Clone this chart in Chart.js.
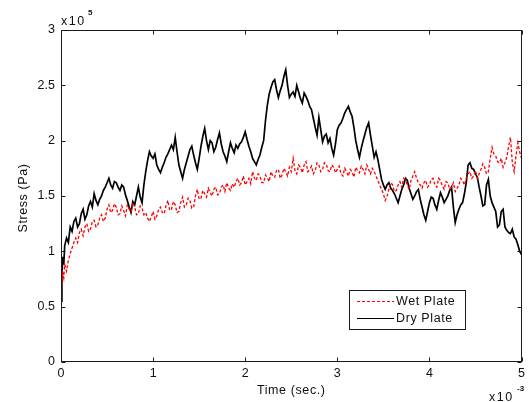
<!DOCTYPE html>
<html>
<head>
<meta charset="utf-8">
<script src="https://cdn.jsdelivr.net/npm/chart.js@4/dist/chart.umd.min.js"></script>
<style>
html,body{margin:0;padding:0;background:#fff;}
#wrap{width:529px;height:402px;position:relative;}
</style>
</head>
<body>
<div id="wrap"><canvas id="c" width="529" height="402"></canvas></div>
<script>
// Time in units of 1e-3 s, stress in units of 1e5 Pa
const timeMs = [0,0.01,0.02,0.03,0.04,0.06,0.08,0.10,
0.12,0.14,0.16,0.18,0.20,0.22,0.24,0.26,0.28,0.30,
0.32,0.34,0.36,0.38,0.40,0.42,0.44,0.46,0.48,0.50,
0.52,0.54,0.56,0.58,0.60,0.62,0.64,0.66,0.68,0.70,
0.72,0.74,0.76,0.78,0.80,0.82,0.84,0.86,0.88,0.90,
0.92,0.94,0.96,0.98,1.00,1.02,1.04,1.06,1.08,1.10,
1.12,1.14,1.16,1.18,1.20,1.22,1.24,1.26,1.28,1.30,
1.32,1.34,1.36,1.38,1.40,1.42,1.44,1.46,1.48,1.50,
1.52,1.54,1.56,1.58,1.60,1.62,1.64,1.66,1.68,1.70,
1.72,1.74,1.76,1.78,1.80,1.82,1.84,1.86,1.88,1.90,
1.92,1.94,1.96,1.98,2.00,2.02,2.04,2.06,2.08,2.10,
2.12,2.14,2.16,2.18,2.20,2.22,2.24,2.26,2.28,2.30,
2.32,2.34,2.36,2.38,2.40,2.42,2.44,2.46,2.48,2.50,
2.52,2.54,2.56,2.58,2.60,2.62,2.64,2.66,2.68,2.70,
2.72,2.74,2.76,2.78,2.80,2.82,2.84,2.86,2.88,2.90,
2.92,2.94,2.96,2.98,3.00,3.02,3.04,3.06,3.08,3.10,
3.12,3.14,3.16,3.18,3.20,3.22,3.24,3.26,3.28,3.30,
3.32,3.34,3.36,3.38,3.40,3.42,3.44,3.46,3.48,3.50,
3.52,3.54,3.56,3.58,3.60,3.62,3.64,3.66,3.68,3.70,
3.72,3.74,3.76,3.78,3.80,3.82,3.84,3.86,3.88,3.90,
3.92,3.94,3.96,3.98,4.00,4.02,4.04,4.06,4.08,4.10,
4.12,4.14,4.16,4.18,4.20,4.22,4.24,4.26,4.28,4.30,
4.32,4.34,4.36,4.38,4.40,4.42,4.44,4.46,4.48,4.50,
4.52,4.54,4.56,4.58,4.60,4.62,4.64,4.66,4.68,4.70,
4.72,4.74,4.76,4.78,4.80,4.82,4.84,4.86,4.88,4.90,
4.92,4.94,4.96,4.98,5.00];

const wetPlate = [0.60,0.72,0.80,0.76,0.88,0.82,0.92,0.98,
1.03,1.08,1.12,1.08,1.17,1.20,1.14,1.22,1.25,1.18,
1.20,1.27,1.28,1.22,1.24,1.30,1.33,1.27,1.30,1.38,
1.42,1.35,1.37,1.43,1.40,1.33,1.34,1.41,1.37,1.32,
1.42,1.38,1.36,1.44,1.40,1.33,1.34,1.41,1.39,1.33,
1.35,1.30,1.27,1.31,1.36,1.29,1.32,1.38,1.40,1.35,
1.34,1.41,1.46,1.37,1.38,1.45,1.42,1.35,1.36,1.44,
1.49,1.40,1.42,1.48,1.46,1.39,1.40,1.50,1.56,1.47,
1.48,1.55,1.52,1.49,1.57,1.53,1.50,1.56,1.58,1.51,
1.52,1.58,1.60,1.54,1.62,1.57,1.55,1.61,1.58,1.63,
1.66,1.60,1.62,1.68,1.60,1.63,1.66,1.61,1.72,1.66,
1.64,1.70,1.68,1.62,1.62,1.69,1.66,1.63,1.72,1.68,
1.67,1.73,1.74,1.66,1.69,1.75,1.72,1.68,1.76,1.72,
1.84,1.73,1.70,1.78,1.76,1.71,1.78,1.81,1.72,1.74,
1.77,1.70,1.73,1.80,1.78,1.72,1.74,1.80,1.79,1.73,
1.72,1.78,1.76,1.71,1.74,1.77,1.70,1.68,1.75,1.72,
1.68,1.74,1.72,1.67,1.76,1.73,1.71,1.77,1.74,1.70,
1.78,1.74,1.70,1.75,1.72,1.68,1.64,1.60,1.56,1.52,
1.46,1.50,1.56,1.62,1.60,1.54,1.55,1.60,1.63,1.58,
1.66,1.64,1.60,1.56,1.64,1.68,1.72,1.66,1.62,1.60,
1.57,1.62,1.64,1.58,1.60,1.65,1.66,1.60,1.58,1.66,
1.64,1.59,1.56,1.63,1.62,1.56,1.58,1.62,1.54,1.57,
1.60,1.66,1.64,1.60,1.66,1.70,1.72,1.66,1.68,1.73,
1.66,1.70,1.74,1.79,1.76,1.70,1.72,1.84,1.94,1.88,
1.86,1.81,1.80,1.84,1.76,1.80,1.85,1.95,2.03,1.80,
1.72,1.86,1.98,1.90,1.84];

const dryPlate = [0.55,0.80,0.95,0.88,1.05,1.12,1.08,1.22,
1.18,1.27,1.30,1.22,1.25,1.34,1.38,1.29,1.33,1.41,
1.45,1.40,1.52,1.46,1.42,1.47,1.50,1.55,1.58,1.62,
1.66,1.60,1.57,1.63,1.62,1.58,1.55,1.60,1.58,1.51,
1.46,1.40,1.35,1.45,1.42,1.50,1.58,1.49,1.44,1.60,
1.72,1.82,1.90,1.86,1.84,1.88,1.78,1.74,1.71,1.76,
1.80,1.85,1.88,1.92,1.96,1.92,2.03,1.90,1.78,1.72,
1.66,1.74,1.80,1.86,1.92,1.95,1.87,1.80,1.74,1.84,
1.95,2.04,2.11,2.00,1.92,2.00,1.98,1.90,1.94,2.01,
2.07,1.97,1.90,1.86,1.81,1.90,1.98,1.93,1.89,1.96,
1.93,1.97,1.99,2.03,2.08,2.01,1.95,1.90,1.84,1.81,
1.78,1.83,1.87,1.94,2.00,2.18,2.32,2.42,2.48,2.53,
2.55,2.46,2.39,2.45,2.50,2.58,2.64,2.50,2.39,2.42,
2.44,2.40,2.50,2.44,2.38,2.34,2.43,2.40,2.36,2.31,
2.28,2.20,2.12,2.05,2.21,2.10,1.99,2.04,2.06,1.98,
2.02,1.93,1.87,1.97,2.10,2.14,2.16,2.20,2.25,2.28,
2.31,2.26,2.22,2.12,2.00,1.92,1.85,1.93,2.00,2.06,
2.12,2.16,2.05,1.95,1.85,1.90,1.83,1.74,1.65,1.60,
1.56,1.60,1.62,1.57,1.55,1.52,1.48,1.44,1.50,1.56,
1.60,1.66,1.64,1.57,1.52,1.47,1.50,1.54,1.56,1.47,
1.40,1.33,1.28,1.36,1.44,1.49,1.48,1.42,1.38,1.46,
1.53,1.49,1.44,1.47,1.50,1.55,1.58,1.40,1.26,1.33,
1.38,1.42,1.44,1.52,1.62,1.78,1.80,1.75,1.74,1.70,
1.67,1.58,1.50,1.41,1.42,1.60,1.65,1.50,1.44,1.40,
1.36,1.22,1.24,1.36,1.38,1.22,1.19,1.17,1.16,1.20,
1.13,1.11,1.06,1.00,0.97];

const xTicks = [0,1,2,3,4,5];
const yTicks = [0,0.5,1,1.5,2,2.5,3];
const seriesNames = ['Wet Plate','Dry Plate'];

const FONT = '"Liberation Sans", Arial, sans-serif';

const frame = {
  id: 'matlabFrame',
  afterDraw(chart) {
    const {ctx, chartArea: a, scales: {x, y}} = chart;
    ctx.save();
    ctx.strokeStyle = '#1a1a1a';
    ctx.lineWidth = 1;
    const L = Math.round(a.left) + 0.5, R = Math.round(a.right) - 0.5;
    const T = Math.round(a.top) + 0.5, B = Math.round(a.bottom) - 0.5;
    ctx.strokeRect(L, T, R - L, B - T);
    ctx.beginPath();
    xTicks.forEach(v => {
      const px = Math.round(x.getPixelForValue(v)) + 0.5;
      ctx.moveTo(px, B); ctx.lineTo(px, B - 4);
      ctx.moveTo(px, T); ctx.lineTo(px, T + 4);
    });
    yTicks.forEach(v => {
      const py = Math.round(y.getPixelForValue(v)) + 0.5;
      ctx.moveTo(L, py); ctx.lineTo(L + 4, py);
      ctx.moveTo(R, py); ctx.lineTo(R - 4, py);
    });
    ctx.stroke();

    // multipliers and axis titles
    const hasLS = 'letterSpacing' in ctx;
    ctx.fillStyle = '#111';
    ctx.textBaseline = 'alphabetic';
    ctx.textAlign = 'left';
    if (hasLS) ctx.letterSpacing = '1.5px';
    ctx.font = '12.5px ' + FONT;
    ctx.fillText('x10', 61, 25);
    ctx.fillText('x10', 489, 401);
    if (hasLS) ctx.letterSpacing = '0px';
    ctx.font = 'bold 8px ' + FONT;
    ctx.fillText('5', 88, 15);
    ctx.fillText('-3', 517, 391);

    ctx.font = '12.5px ' + FONT;
    ctx.textAlign = 'center';
    if (hasLS) ctx.letterSpacing = '0.6px';
    ctx.fillText('Time (sec.)', (a.left + a.right) / 2, 394);
    ctx.save();
    ctx.translate(27, (a.top + a.bottom) / 2 + 2);
    ctx.rotate(-Math.PI / 2);
    ctx.fillText('Stress (Pa)', 0, 0);
    ctx.restore();

    // legend box
    const lx = 349.5, ly = 290.5, lw = 116, lh = 39;
    ctx.fillStyle = '#fff';
    ctx.fillRect(lx, ly, lw, lh);
    ctx.strokeStyle = '#1a1a1a';
    ctx.strokeRect(lx, ly, lw, lh);
    const ds = chart.data.datasets;
    const rows = [ly + 10, ly + 27];
    ds.forEach((d, i) => {
      ctx.beginPath();
      ctx.strokeStyle = d.borderColor;
      ctx.lineWidth = 1;
      ctx.setLineDash(d.borderDash || []);
      ctx.moveTo(357, Math.round(rows[i]) + 0.5);
      ctx.lineTo(394, Math.round(rows[i]) + 0.5);
      ctx.stroke();
      ctx.setLineDash([]);
      ctx.fillStyle = '#111';
      ctx.textAlign = 'left';
      ctx.textBaseline = 'middle';
      ctx.font = '12.5px ' + FONT;
      ctx.fillText(d.label, 396, rows[i] + 1);
    });
    ctx.restore();
  }
};

new Chart(document.getElementById('c'), {
  type: 'line',
  data: {
    datasets: [
      {
        label: seriesNames[0],
        data: timeMs.map((t, i) => ({x: t, y: wetPlate[i]})),
        borderColor: '#ff0000',
        borderWidth: 1.3,
        borderDash: [3, 2],
        pointRadius: 0,
        tension: 0,
        fill: false
      },
      {
        label: seriesNames[1],
        data: timeMs.map((t, i) => ({x: t, y: dryPlate[i]})),
        borderColor: '#000000',
        borderWidth: 1.7,
        pointRadius: 0,
        tension: 0,
        fill: false
      }
    ]
  },
  options: {
    responsive: false,
    animation: false,
    events: [],
    layout: {padding: {top: 30, right: 2, left: 0, bottom: 0}},
    plugins: {legend: {display: false}, tooltip: {enabled: false}},
    scales: {
      x: {
        type: 'linear', min: 0, max: 5,
        afterBuildTicks: s => { s.ticks = xTicks.map(v => ({value: v})); },
        afterFit: s => { s.height = 40; },
        grid: {display: false, drawTicks: false},
        border: {display: false},
        ticks: {color: '#111', font: {family: FONT, size: 12.5}, padding: 4, maxRotation: 0,
                callback: v => String(v)}
      },
      y: {
        type: 'linear', min: 0, max: 3,
        afterBuildTicks: s => { s.ticks = yTicks.map(v => ({value: v})); },
        afterFit: s => { s.width = 61; },
        grid: {display: false, drawTicks: false},
        border: {display: false},
        ticks: {color: '#111', font: {family: FONT, size: 12.5}, padding: 6,
                callback: v => String(v)}
      }
    }
  },
  plugins: [frame]
});
</script>
</body>
</html>
